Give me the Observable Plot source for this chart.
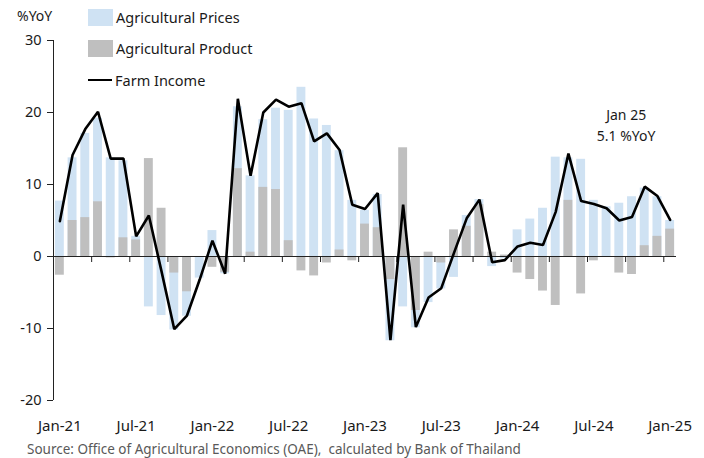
<!DOCTYPE html>
<html>
<head>
<meta charset="utf-8">
<script src="https://cdn.jsdelivr.net/npm/d3@7"></script>
<script src="https://cdn.jsdelivr.net/npm/@observablehq/plot@0.6"></script>
<style>
  body { margin: 0; background: #fff; }
  #wrap { position: relative; width: 704px; height: 458px; font-family: "Noto Sans", sans-serif; color: #1a1a1a; }
  .lg { position: absolute; left: 88px; display: flex; align-items: center; font-size: 14.5px; height: 18px; }
  .sw { width: 25px; height: 17px; margin-right: 3px; }
  .ln { width: 24px; height: 0; border-top: 2.5px solid #000; margin-right: 3px; }
  #unit { position: absolute; left: 17px; top: 6px; font-size: 14px; }
  #source { position: absolute; left: 27px; top: 440px; font-size: 13.5px; color: #595959; white-space: nowrap; }
</style>
</head>
<body>
<div id="wrap">
  <div id="chart"></div>
  <div id="unit">%YoY</div>
  <div class="lg" style="top:8px"><div class="sw" style="background:#cfe2f3"></div>Agricultural Prices</div>
  <div class="lg" style="top:39px"><div class="sw" style="background:#bfbfbf"></div>Agricultural Product</div>
  <div class="lg" style="top:71px"><div class="ln"></div>Farm Income</div>
  <div id="source">Source: Office of Agricultural Economics (OAE),&nbsp; calculated by Bank of Thailand</div>
</div>
<script>
// Monthly categories Jan-21 .. Jan-25
const months = d3.utcMonths(new Date(Date.UTC(2021, 0, 1)), new Date(Date.UTC(2025, 1, 1))).map(d3.utcFormat("%b-%y"));

const agriPrices = [
  7.7, 13.7, 17.1, 19.2, 13.7, 13.3, 2.8, -7.0, -8.2, -10.2, -8.3, -3.0,
  3.6, -2.4, 20.8, 11.2, 19.0, 20.6, 20.3, 23.5, 19.1, 18.2, 14.7, 7.8,
  6.4, 8.6, -11.7, -7.0, -9.9, -6.4, -4.5, -2.9, 5.7, 7.9, -1.4, -0.3,
  3.7, 5.2, 6.7, 13.8, 13.7, 13.5, 7.8, 6.9, 7.4, 8.3, 9.5, 8.3,
  5.0
];
const agriProduct = [
  -2.6, 5.0, 5.4, 7.6, -0.2, 2.6, 2.3, 13.6, 6.7, -2.3, -4.9, 0.0,
  -1.5, -2.2, 12.2, 0.6, 9.6, 9.3, 2.2, -2.0, -2.7, -0.9, 0.9, -0.6,
  4.5, 4.0, -3.2, 15.1, -7.5, 0.6, -0.9, 3.7, 4.2, 7.2, 0.6, 0.2,
  -2.3, -3.2, -4.8, -6.8, 7.8, -5.2, -0.6, 0.0, -2.3, -2.5, 1.5, 2.8,
  3.8
];
const farmIncome = [
  4.9, 14.1, 17.7, 20.1, 13.6, 13.6, 2.8, 5.7, -2.1, -10.1, -8.2, -3.2,
  2.2, -2.4, 21.9, 11.2, 20.0, 21.8, 20.8, 21.3, 16.0, 17.1, 14.8, 7.2,
  6.6, 8.8, -11.6, 7.2, -9.8, -5.7, -4.4, 0.5, 5.3, 7.9, -0.8, -0.5,
  1.4, 1.9, 1.6, 6.2, 14.3, 7.7, 7.3, 6.7, 5.0, 5.5, 9.7, 8.4,
  5.1
];
const xTickLabels = ["Jan-21", "Jul-21", "Jan-22", "Jul-22", "Jan-23", "Jul-23", "Jan-24", "Jul-24", "Jan-25"];
const yTicks = [-20, -10, 0, 10, 20, 30];
const annotation = ["Jan 25", "5.1 %YoY"];

const data = months.map((m, i) => ({i, month: m, prices: agriPrices[i], product: agriProduct[i], income: farmIncome[i]}));
const labelIdx = xTickLabels.map(l => months.indexOf(l));
const boundaries = d3.range(3, months.length, 3).map(i => i - 0.5);
const last = data[data.length - 1];
const hw = 0.35;

const chart = Plot.plot({
  width: 704,
  height: 458,
  marginTop: 40,
  marginBottom: 58,
  marginLeft: 53,
  marginRight: 28,
  style: {fontFamily: "Noto Sans, sans-serif", fontSize: "14px", color: "#1a1a1a", background: "transparent"},
  x: {type: "linear", domain: [-0.5, months.length - 0.5], axis: null},
  y: {domain: [-20, 30], axis: null},
  marks: [
    Plot.rectY(data, {x1: d => d.i - hw, x2: d => d.i + hw, y: "prices", fill: "#cfe2f3"}),
    Plot.rectY(data, {x1: d => d.i - hw, x2: d => d.i + hw, y: "product", fill: "#bfbfbf"}),
    Plot.ruleY([0], {stroke: "#222", strokeWidth: 1.2}),
    Plot.ruleX(boundaries, {x: d => d, y1: 0, y2: 0, insetBottom: -6, stroke: "#222"}),
    Plot.ruleX([-0.5], {stroke: "#222", strokeWidth: 1}),
    Plot.axisY({ticks: yTicks, tickFormat: d => String(d), tickSize: 6, tickPadding: 6, fontSize: 14.5, label: null, stroke: "#222"}),
    Plot.axisX({ticks: labelIdx, tickFormat: i => months[i], tickSize: 0, tickPadding: 20, fontSize: 15, label: null}),
    Plot.line(data, {x: "i", y: "income", stroke: "#000", strokeWidth: 2.6, strokeLinejoin: "miter"}),
    Plot.text([last], {x: "i", y: "income", text: () => annotation.join("\n"), dx: -44, dy: -96, lineHeight: 1.5, fontSize: 14, fill: "#1a1a1a"})
  ]
});
document.getElementById("chart").appendChild(chart);
</script>
</body>
</html>
